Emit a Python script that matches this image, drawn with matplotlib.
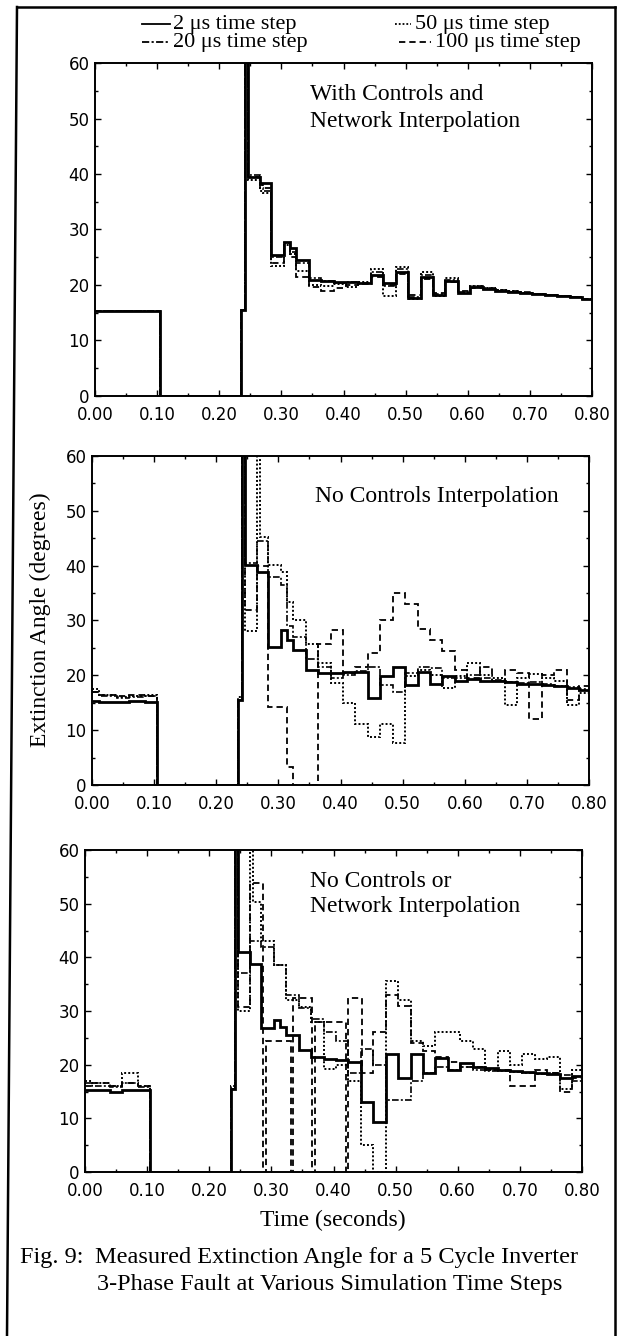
import matplotlib
matplotlib.use("Agg")
import matplotlib.pyplot as plt
from matplotlib.ticker import MultipleLocator, FormatStrFormatter
from matplotlib.lines import Line2D

# ---------------- data ----------------
# common step edges (seconds)
edges = [0.000, 0.012, 0.040, 0.060, 0.085, 0.105, 0.235, 0.242, 0.246, 0.265,
         0.270, 0.284, 0.304, 0.314, 0.324, 0.344, 0.364, 0.384, 0.404, 0.424,
         0.444, 0.464, 0.484, 0.504, 0.524, 0.544, 0.564, 0.584, 0.604, 0.624,
         0.644, 0.664, 0.684, 0.704, 0.724, 0.744, 0.764, 0.784, 0.800]

# Panel 1: With Controls and Network Interpolation
p1_2us = [15.3, 15.3, 15.3, 15.3, 15.3, 0.0, 15.5, 75.0, 39.5, 38.3, 38.3, 25.4, 27.8, 26.6,
          24.5, 20.9, 20.7, 20.6, 20.5, 20.4, 21.8, 20.3, 22.4, 17.6, 21.5, 18.2, 20.7, 18.5,
          19.7, 19.3, 19.0, 18.8, 18.6, 18.4, 18.2, 18.0, 17.8, 17.5]
p1_20us = [15.3, 15.3, 15.3, 15.3, 15.3, 0.0, 15.5, 75.0, 39.8, 37.5, 37.0, 25.0, 27.5, 26.0,
           24.0, 21.2, 20.8, 20.3, 20.6, 20.2, 22.3, 19.8, 22.8, 17.8, 21.8, 18.4, 20.9, 18.8,
           19.9, 19.4, 19.1, 18.9, 18.7, 18.4, 18.2, 18.0, 17.8, 17.5]
p1_50us = [15.3, 15.3, 15.3, 15.3, 15.3, 0.0, 15.5, 75.0, 39.0, 37.0, 36.5, 23.5, 27.2, 25.5,
           22.5, 20.0, 19.8, 20.2, 19.6, 20.5, 22.9, 18.0, 23.3, 17.4, 22.3, 18.0, 21.2, 18.6,
           19.9, 19.5, 19.1, 18.9, 18.6, 18.4, 18.2, 18.0, 17.8, 17.5]
p1_100us = [15.3, 15.3, 15.3, 15.3, 15.3, 0.0, 15.5, 75.0, 39.5, 38.0, 37.5, 24.0, 26.5, 25.0,
            21.5, 19.7, 19.0, 19.5, 20.0, 20.3, 21.5, 20.0, 22.0, 18.2, 21.0, 18.6, 20.5, 18.9,
            19.5, 19.3, 19.0, 18.8, 18.6, 18.4, 18.2, 18.0, 17.8, 17.5]

# Panel 2: No Controls Interpolation
p2_2us = [15.3, 15.2, 15.2, 15.3, 15.2, 0.0, 15.5, 75.0, 40.1, 38.9, 38.9, 25.2, 28.3, 26.5,
          24.6, 21.0, 20.5, 20.5, 20.6, 20.6, 15.8, 19.8, 21.6, 18.2, 20.6, 18.5, 19.8, 19.0,
          19.3, 19.0, 18.9, 18.7, 18.5, 18.4, 18.2, 18.0, 17.6, 17.3]
p2_20us = [17.0, 16.2, 15.8, 16.0, 16.2, 0.0, 15.5, 75.0, 40.5, 44.5, 44.5, 38.0, 36.5, 29.0,
           27.0, 23.0, 21.5, 19.5, 20.0, 20.8, 21.5, 18.2, 17.0, 20.5, 21.5, 21.3, 19.5, 19.5,
           20.0, 19.5, 19.2, 18.8, 18.6, 18.8, 18.4, 18.0, 17.8, 17.5]
p2_50us = [17.5, 16.5, 16.0, 16.3, 16.5, 0.0, 16.0, 75.0, 28.0, 75.0, 45.3, 40.1, 38.9, 33.3,
           30.0, 25.8, 22.2, 18.6, 14.9, 11.2, 8.8, 11.2, 7.6, 19.8, 20.9, 20.0, 17.6, 19.8,
           22.2, 20.0, 19.5, 14.6, 19.5, 20.2, 19.5, 19.0, 14.6, 16.7]
p2_100us = [17.0, 16.5, 16.2, 16.5, 16.3, 0.0, 15.5, 75.0, 32.0, 40.0, 40.0, 14.3, 14.3, 3.3,
            0.0, 0.0, 25.8, 28.3, 20.5, 21.5, 24.0, 30.0, 35.0, 33.0, 28.5, 26.5, 24.5, 21.0,
            19.5, 21.5, 19.0, 21.0, 20.5, 12.0, 20.0, 21.0, 15.5, 18.0]

# Panel 3: No Controls or Network Interpolation
p3_2us = [15.2, 15.2, 15.0, 15.2, 15.2, 0.0, 15.5, 75.0, 41.0, 38.8, 38.8, 26.8, 28.3, 27.0,
          25.5, 22.8, 21.5, 21.0, 20.8, 20.5, 13.1, 9.4, 21.9, 17.6, 21.9, 18.4, 21.2, 19.0,
          20.3, 19.5, 19.3, 19.0, 18.8, 18.6, 18.4, 18.2, 17.6, 17.8]
p3_20us = [16.5, 16.0, 15.8, 16.5, 15.8, 0.0, 15.5, 75.0, 37.0, 43.0, 43.0, 42.0, 38.6, 38.6,
           33.0, 30.5, 28.5, 26.0, 24.5, 18.5, 23.0, 20.0, 13.5, 13.5, 17.0, 18.5, 19.5, 19.0,
           19.5, 19.0, 18.8, 18.8, 18.6, 18.4, 18.2, 18.5, 18.0, 17.0]
p3_50us = [17.0, 16.5, 16.0, 18.5, 16.0, 0.0, 16.0, 75.0, 30.0, 75.0, 50.4, 43.0, 38.6, 38.6,
           32.1, 30.8, 28.0, 19.2, 20.0, 17.0, 5.0, 0.0, 35.5, 32.0, 24.5, 23.5, 26.0, 26.0,
           24.5, 23.0, 19.0, 22.5, 20.0, 22.0, 21.0, 21.5, 15.5, 19.0]
# the 100 us trace of panel 3 has its own (narrow-dip) edges
p3_100us_edges = [0.000, 0.012, 0.040, 0.060, 0.085, 0.105, 0.235, 0.242, 0.246, 0.265,
                  0.287, 0.291, 0.331, 0.335, 0.366, 0.370, 0.420, 0.424, 0.446, 0.464,
                  0.484, 0.504, 0.524, 0.544, 0.564, 0.584, 0.604, 0.624, 0.644, 0.664,
                  0.684, 0.704, 0.724, 0.744, 0.764, 0.784, 0.800]
p3_100us = [16.0, 16.5, 16.0, 16.5, 16.0, 0.0, 15.5, 75.0, 30.8, 53.8, 0.0, 24.5, 0.0, 32.5,
            0.0, 28.0, 0.0, 32.5, 18.5, 26.0, 33.0, 31.0, 24.0, 22.5, 21.5, 20.5, 19.5, 19.5,
            19.0, 19.0, 16.0, 16.0, 19.0, 18.5, 15.0, 17.5]

panel_titles = [["With Controls and", "Network Interpolation"],
                ["No Controls Interpolation"],
                ["No Controls or", "Network Interpolation"]]
series_names = ["2 \u03bcs time step", "20 \u03bcs time step",
                "50 \u03bcs time step", "100 \u03bcs time step"]
x_ticks = [0.0, 0.1, 0.2, 0.3, 0.4, 0.5, 0.6, 0.7, 0.8]
y_ticks = [0, 10, 20, 30, 40, 50, 60]
y_label = "Extinction Angle (degrees)"
x_label = "Time (seconds)"
caption_head = "Fig. 9:"
caption_l1 = "Measured Extinction Angle for a 5 Cycle Inverter"
caption_l2 = "3-Phase Fault at Various Simulation Time Steps"

# ---------------- figure ----------------
W, H = 619, 1336
fig = plt.figure(figsize=(W / 100, H / 100), dpi=100)
fig.patch.set_facecolor("white")
SERIF = ["Liberation Serif", "DejaVu Serif"]
SANS = ["DejaVu Sans"]


def fx(p):
    return p / W


def fy(p):
    return 1 - p / H


styles = {
    "2": dict(linestyle="-", linewidth=2.0),
    "20": dict(linestyle=(0, (4.0, 1.3, 1.2, 1.3)), linewidth=1.2),
    "50": dict(linestyle=(0, (1.0, 1.1)), linewidth=1.4),
    "100": dict(linestyle=(0, (3.5, 2.2)), linewidth=1.3),
}

panels = [
    (p1_2us, p1_20us, p1_50us, p1_100us, edges),
    (p2_2us, p2_20us, p2_50us, p2_100us, edges),
    (p3_2us, p3_20us, p3_50us, p3_100us, p3_100us_edges),
]
rects = [(95, 63, 592, 396), (92, 456, 589, 785), (85, 850, 582, 1172)]
title_pos = [[(310, 100), (310, 127)], [(315, 502)], [(310, 887), (310, 912)]]

for (s2, s20, s50, s100, e100), (l, t, r, b), titles, tpos in zip(panels, rects, panel_titles, title_pos):
    ax = fig.add_axes([fx(l), fy(b), (r - l) / W, (b - t) / H])
    ax.stairs(s100, e100, baseline=None, color="black", **styles["100"])
    ax.stairs(s50, edges, baseline=None, color="black", **styles["50"])
    ax.stairs(s20, edges, baseline=None, color="black", **styles["20"])
    ax.stairs(s2, edges, baseline=None, color="black", **styles["2"])
    ax.set_xlim(0, 0.8)
    ax.set_ylim(0, 60)
    ax.set_xticks(x_ticks)
    ax.set_yticks(y_ticks)
    ax.xaxis.set_minor_locator(MultipleLocator(0.05))
    ax.yaxis.set_minor_locator(MultipleLocator(5))
    ax.xaxis.set_major_formatter(FormatStrFormatter("%.2f"))
    ax.tick_params(which="both", direction="in", top=True, right=True, width=1.0, colors="black")
    ax.tick_params(which="major", length=4.5)
    ax.tick_params(which="minor", length=2.2)
    ax.tick_params(axis="x", pad=7, labelsize=12)
    ax.tick_params(axis="y", pad=4, labelsize=12)
    for lab in ax.get_xticklabels() + ax.get_yticklabels():
        lab.set_family(SANS)
    for sp in ax.spines.values():
        sp.set_linewidth(1.4)
    for txt, (px, py) in zip(titles, tpos):
        fig.text(fx(px), fy(py), txt, family=SERIF, fontsize=17, ha="left", va="baseline")

# axis labels
fig.text(fx(40), fy(620), y_label, rotation=90, ha="center", va="center", family=SERIF, fontsize=17)
fig.text(fx(333), fy(1220), x_label, ha="center", va="center", family=SERIF, fontsize=17)

# caption
fig.text(fx(20), fy(1263), caption_head, ha="left", va="baseline", family=SERIF, fontsize=17.5)
fig.text(fx(95), fy(1263), caption_l1, ha="left", va="baseline", family=SERIF, fontsize=17.5)
fig.text(fx(97), fy(1290), caption_l2, ha="left", va="baseline", family=SERIF, fontsize=17.5)

# legend (drawn by hand in figure coordinates)
leg_items = [("2", series_names[0], 142, 170, 173, 24),
             ("20", series_names[1], 142, 170, 173, 42),
             ("50", series_names[2], 395, 411, 415, 24),
             ("100", series_names[3], 399, 431, 435, 42)]
for key, name, x0, x1, xt, yc in leg_items:
    st = styles[key]
    fig.add_artist(Line2D([fx(x0), fx(x1)], [fy(yc), fy(yc)], transform=fig.transFigure,
                          color="black", linestyle=st["linestyle"], linewidth=1.3))
    fig.text(fx(xt), fy(yc + 5), name, ha="left", va="baseline", family=SERIF, fontsize=16)

# outer frame of the scanned page
frame = [([17, 7], [7, 1336]), ([17, 615], [7, 7]), ([615, 615], [7, 1336])]
for xs, ys in frame:
    fig.add_artist(Line2D([fx(v) for v in xs], [fy(v) for v in ys], transform=fig.transFigure,
                          color="black", linewidth=1.8))

fig.savefig("out.png", dpi=100, facecolor="white")
